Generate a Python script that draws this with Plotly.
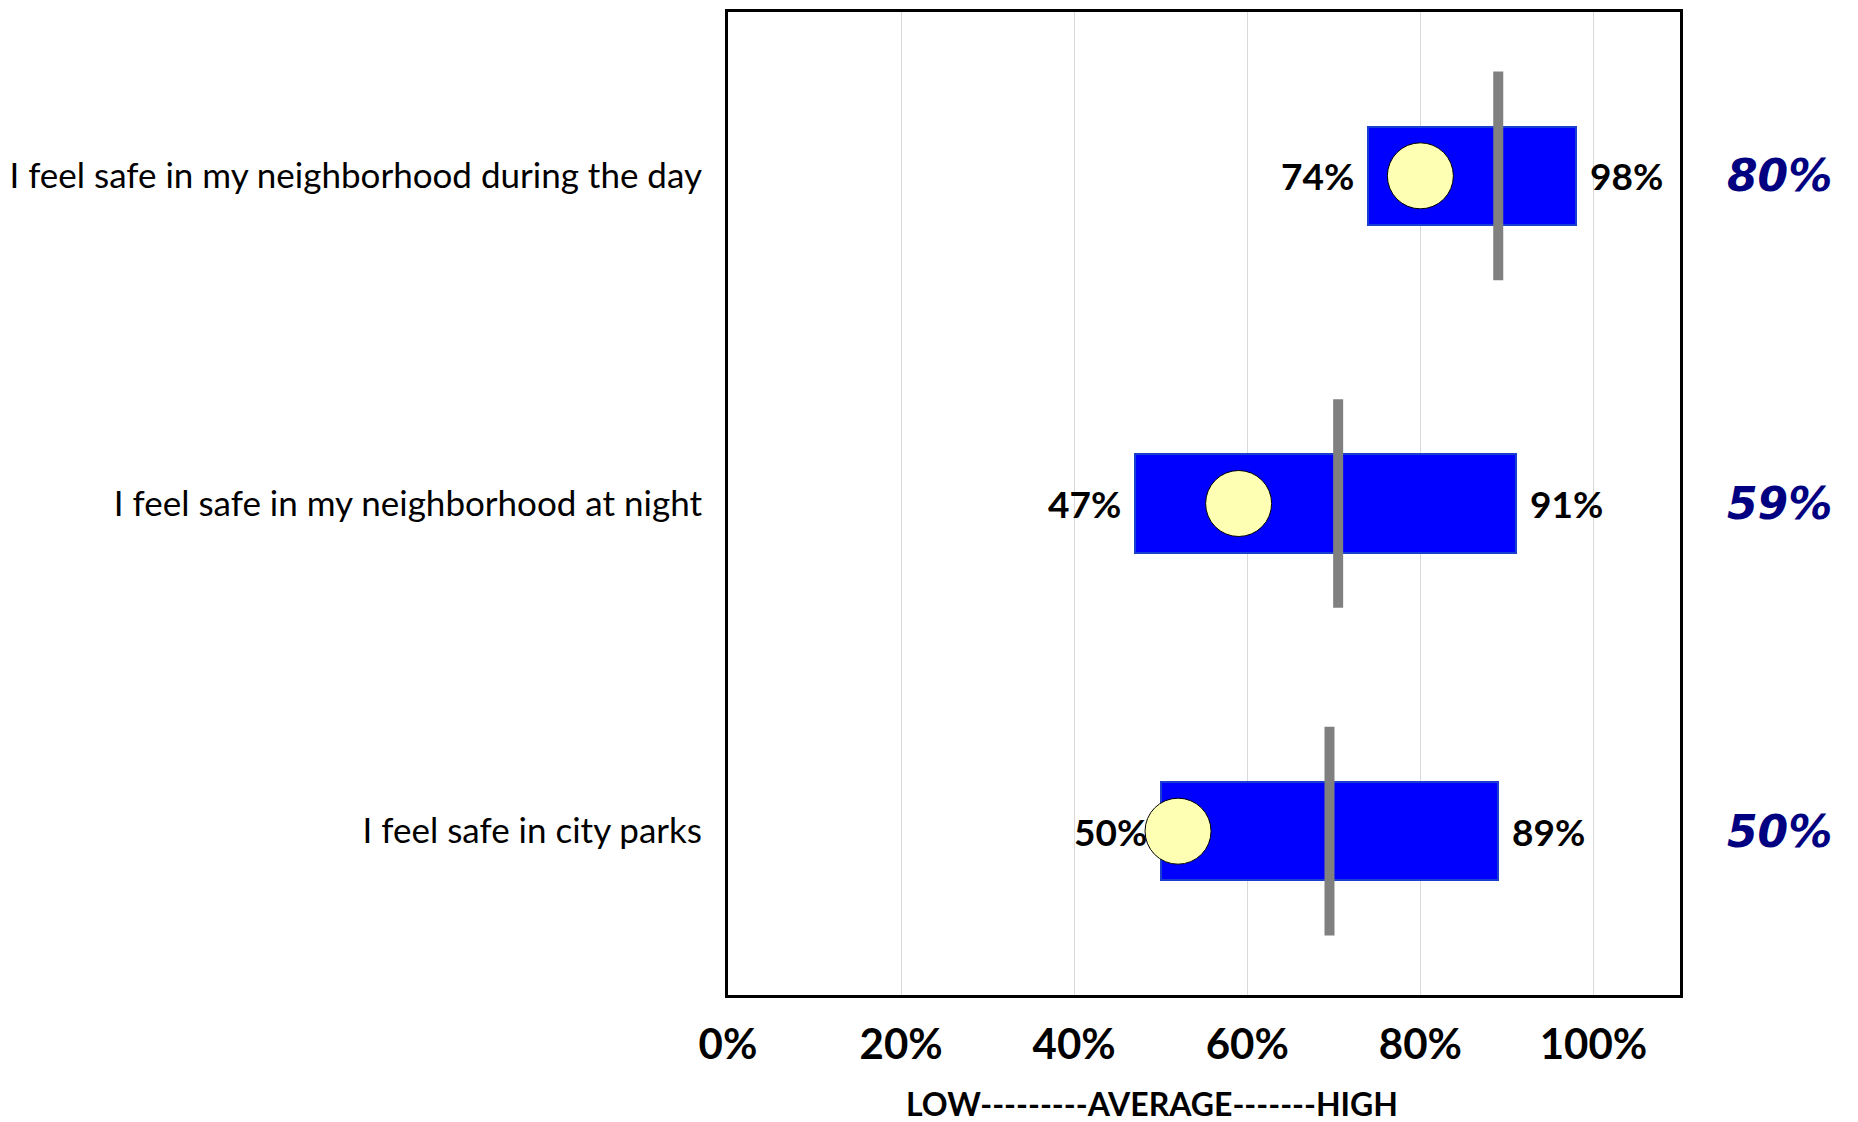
import plotly.graph_objects as go

# Survey items, top to bottom
statements = [
    "I feel safe in my neighborhood during the day",
    "I feel safe in my neighborhood at night",
    "I feel safe in city parks",
]
range_low = [0.74, 0.47, 0.50]     # low end of comparison range
range_high = [0.98, 0.91, 0.89]    # high end of comparison range
average = [0.89, 0.705, 0.695]     # comparison average (gray bar)
score = [0.80, 0.59, 0.52]         # city score (yellow dot)
score_labels = ["80%", "59%", "50%"]
x_ticks = [0, 0.2, 0.4, 0.6, 0.8, 1.0]
x_tick_text = ["0%", "20%", "40%", "60%", "80%", "100%"]
x_title = "LOW---------AVERAGE-------HIGH"

LABEL_FONT = "Lato"
BOLD_FONT = "Lato"

fig = go.Figure()

# Range bars
fig.add_trace(go.Bar(
    y=statements,
    x=[h - l for l, h in zip(range_low, range_high)],
    base=range_low,
    orientation="h",
    width=0.30,
    marker=dict(color="#0000FF", line=dict(color="#1A3FD0", width=2)),
    hoverinfo="skip",
    showlegend=False,
))

# Average marker (vertical gray bar)
fig.add_trace(go.Scatter(
    y=statements,
    x=average,
    mode="markers",
    marker=dict(symbol="line-ns", size=149, color="#808080",
                line=dict(color="#808080", width=10)),
    hoverinfo="skip",
    showlegend=False,
))

# Score dots
fig.add_trace(go.Scatter(
    y=statements,
    x=score,
    mode="markers",
    marker=dict(symbol="circle", size=66, color="#FFFFB3",
                line=dict(color="#000000", width=1)),
    hoverinfo="skip",
    showlegend=False,
))

annotations = []
for s, lo, hi, lab in zip(statements, range_low, range_high, score_labels):
    annotations.append(dict(
        x=lo, y=s, xref="x", yref="y", text=f"{round(lo * 100)}%",
        showarrow=False, xanchor="right", yanchor="middle", xshift=-12,
        font=dict(family=BOLD_FONT, size=37, color="black", weight="bold"),
    ))
    annotations.append(dict(
        x=hi, y=s, xref="x", yref="y", text=f"{round(hi * 100)}%",
        showarrow=False, xanchor="left", yanchor="middle", xshift=12,
        font=dict(family=BOLD_FONT, size=37, color="black", weight="bold"),
    ))
    annotations.append(dict(
        x=1.104, y=s, xref="paper", yref="y", text=lab,
        showarrow=False, xanchor="center", yanchor="middle",
        font=dict(family="DejaVu Sans", size=44, color="#000080",
                  weight="bold", style="italic"),
    ))

annotations.append(dict(
    x=0.49, y=-0.11, xref="x", yref="paper", text=x_title,
    showarrow=False, xanchor="center", yanchor="middle",
    font=dict(family=BOLD_FONT, size=32, color="black", weight="bold"),
))

fig.update_layout(
    width=1858,
    height=1122,
    margin=dict(l=727, r=178, t=9, b=127),
    paper_bgcolor="white",
    plot_bgcolor="white",
    bargap=0,
    annotations=annotations,
)

fig.update_xaxes(
    range=[0, 1.1],
    tickvals=x_ticks,
    ticktext=x_tick_text,
    tickfont=dict(family=BOLD_FONT, size=42, color="black", weight="bold"),
    showgrid=True,
    gridcolor="#D9D9D9",
    gridwidth=1,
    zeroline=False,
    showline=True,
    linecolor="black",
    linewidth=3,
    mirror=True,
    ticks="",
    ticklabelstandoff=11,
)

fig.update_yaxes(
    categoryorder="array",
    categoryarray=statements[::-1],
    range=[-0.5, 2.5],
    tickfont=dict(family=LABEL_FONT, size=35, color="black"),
    showgrid=False,
    zeroline=False,
    showline=True,
    linecolor="black",
    linewidth=3,
    mirror=True,
    ticks="",
    ticklabelstandoff=16,
)

fig.write_html("out.html")
